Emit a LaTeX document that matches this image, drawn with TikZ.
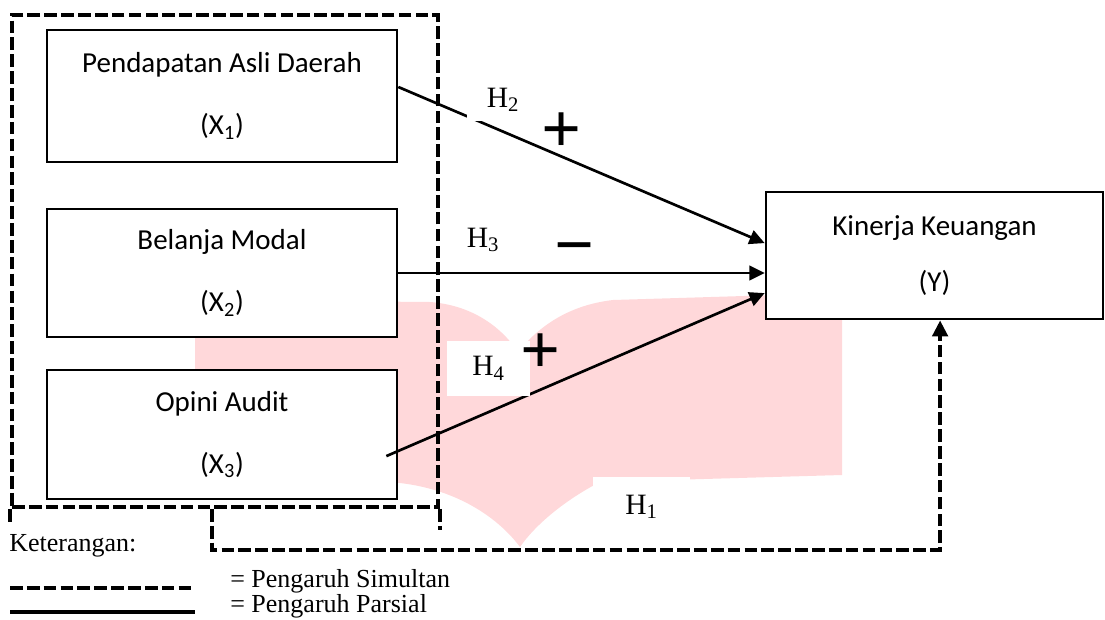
\documentclass[tikz,border=0pt]{standalone}
\usepackage{fontspec}
\setmainfont{Liberation Serif}
\newfontfamily\calib{Carlito}
\usetikzlibrary{arrows.meta}
\usetikzlibrary{positioning}
\definecolor{wmpink}{RGB}{255,216,218}
\tikzset{
    varbox/.style={
        draw,
        line width=1.9pt,
        fill=white,
        minimum width=87.5mm,
        align=center,
        font=\calib\fontsize{20.6}{44}\selectfont
    },
    hlabel/.style={
        font=\fontsize{21}{21}\selectfont,
        inner sep=0pt
    },
    sign/.style={
        font=\bfseries\fontsize{50}{50}\selectfont,
        inner sep=0pt
    },
    legend/.style={
        font=\fontsize{18.5}{18.5}\selectfont,
        inner sep=0pt
    },
    simul/.style={
        line width=2.8pt,
        dash pattern=on 9pt off 3pt
    },
    partial/.style={
        line width=1.9pt,
        -{Triangle[length=3.8mm, width=3.6mm]}
    }
}

\begin{document}
\begin{tikzpicture}[x=0.25mm, y=-0.25mm]
  \useasboundingbox (0,0) rectangle (1105,619);

  % Watermark in the background
  \fill[wmpink] (195,300) -- (430,302) .. controls (470,305) and (500,325) .. (518,352)
    .. controls (540,325) and (570,305) .. (613,300) -- (842,293) -- (842,475) -- (600,482)
    .. controls (565,500) and (535,525) .. (520,547) .. controls (500,520) and (460,490) .. (400,483)
    -- (195,480) -- cycle;

  % Outer group
  \node[simul, draw, minimum width=106.5mm, minimum height=123mm, inner sep=0pt] (grp) at (225,261) {};
  \draw[simul] (grp.south west) -- ++(0,16);
  \draw[simul] (grp.south east) -- ++(0,21);

  % Independent variables
  \foreach \i/\yy/\hh/\txt in {1/96/132/Pendapatan Asli Daerah, 2/273/128/Belanja Modal, 3/434.5/129/Opini Audit} {
    \node[varbox, minimum height=\hh*0.25mm] (x\i) at (222,\yy) {\txt\\(X\textsubscript{\i})};
  }

  % Dependent variable
  \node[varbox, minimum width=84.25mm, minimum height=31.75mm, font=\calib\fontsize{20.6}{40}\selectfont] (yk) at (934.5,255.5) {Kinerja Keuangan\\(Y)};

  % Partial effects
  \draw[partial] ([yshift=2.25mm]x1.east) -- ([yshift=3.1mm]yk.west);
  \draw[partial] (x2.east) -- (yk.west |- x2.east);
  \draw[partial] ([xshift=-3mm, yshift=-5.4mm]x3.east) -- ([yshift=-9.4mm]yk.west);

  % Simultaneous effect
  \draw[simul, -{Triangle[length=4mm, width=3.8mm]}] ([xshift=-3.25mm]grp.south) -- ++(0,41) -| ([xshift=1.4mm]yk.south);

  % Hypothesis labels
  \node[hlabel, fill=white, minimum width=18mm, minimum height=10.5mm] (h2) at (503,100) {H\textsubscript{2}};
  \node[hlabel] (h3) at (483,240) {H\textsubscript{3}};
  \node[hlabel, fill=white, minimum width=20.75mm, minimum height=13.75mm] (h4) at (488.5,368.5) {H\textsubscript{4}};
  \node[hlabel, fill=white, minimum width=24.25mm, minimum height=15mm] (h1) at (641.5,507) {H\textsubscript{1}};
  \node[sign] (s2) at (562,133) {+};
  \node[sign] (s3) at (575,256) {−};
  \node[sign] (s4) at (541,354) {+};

  % Legend
  \node[legend, anchor=base west] (ket) at (9,551) {Keterangan:};
  \coordinate (d1) at (10,588);
  \coordinate (d2) at (195,588);
  \coordinate (p1) at (10,612);
  \coordinate (p2) at (195,612);
  \draw[simul] (d1) -- (d2);
  \draw[line width=2.8pt] (p1) -- (p2);
  \node[legend, anchor=base west] (ls) at (230,587) {= Pengaruh Simultan};
  \node[legend, anchor=base west] (lp) at (230,612.5) {= Pengaruh Parsial};
\end{tikzpicture}
\end{document}
